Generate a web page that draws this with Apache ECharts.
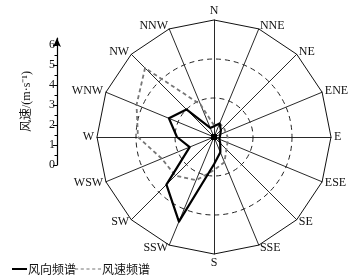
<!DOCTYPE html>
<html><head><meta charset="utf-8">
<script src="https://cdn.jsdelivr.net/npm/echarts@6/dist/echarts.min.js"></script>
<style>html,body{margin:0;padding:0;background:#fff}#c{width:351px;height:279px}</style>
</head><body><div id="c"></div>
<script>
// Directions clockwise from north
const directions = ['N','NNE','NE','ENE','E','ESE','SE','SSE','S','SSW','SW','WSW','W','WNW','NW','NNW'];
// 风向频谱 (wind direction spectrum)
const freqValues = [0.55,0.75,0.5,0.35,0.3,0.3,0.45,0.85,1.4,4.7,3.45,1.35,1.9,2.5,2.0,0.5];
// 风速频谱 (wind speed spectrum), m/s
const speedValues = [0.6,0.75,0.7,0.65,0.7,0.75,0.9,1.4,1.7,2.4,2.8,2.9,3.9,4.3,5.0,1.8];
const speedTicks = [0,1,2,3,4,5,6];
const speedMinorTicks = [0.5,1.5,2.5,3.5,4.5,5.5];
const radarMax = 6;

// radar goes counter-clockwise; reorder so directions run clockwise
const order = [0].concat(directions.map((d,i)=>i).slice(1).reverse());
const ind = order.map(i => ({name: directions[i], max: radarMax}));
const freq = order.map(i => freqValues[i]);
const speed = order.map(i => speedValues[i]);
const zeros = order.map(() => 0);

const serif = 'Liberation Serif, "Noto Sans CJK SC"';
const chart = echarts.init(document.getElementById('c'));
chart.setOption({
  animation: false,
  backgroundColor: '#fff',
  grid: {left: 57, top: 38, height: 127, width: 10},
  xAxis: {type: 'value', show: false},
  yAxis: [{
    type: 'value', min: 0, max: 6.35, position: 'left',
    name: '风速/(m·s⁻¹)', nameLocation: 'middle', nameRotate: 90, nameGap: 24,
    nameTextStyle: {fontFamily: serif, fontSize: 12, color: '#111'},
    axisLine: {show: true, symbol: ['none','arrow'], symbolSize: [6,9], lineStyle: {color: '#000', width: 1.2}},
    axisTick: {show: true, length: 4, customValues: speedTicks, lineStyle: {color: '#000'}},
    axisLabel: {customValues: speedTicks, margin: 2, fontFamily: serif, fontSize: 12, color: '#111'},
    splitLine: {show: false}
  },{
    type: 'value', min: 0, max: 6.35, position: 'left', offset: 0,
    axisLine: {show: false},
    axisTick: {show: true, length: 2.5, customValues: speedMinorTicks, lineStyle: {color: '#000'}},
    axisLabel: {show: false},
    splitLine: {show: false}
  }],
  radar: [{
    center: [214, 137], radius: 117, startAngle: 90, shape: 'polygon', splitNumber: 1,
    indicator: ind,
    axisName: {color: '#111', fontFamily: serif, fontSize: 12},
    nameGap: 3,
    axisLine: {lineStyle: {color: '#111', width: 0.9}},
    splitLine: {lineStyle: {color: '#111', width: 1}},
    splitArea: {show: false},
    axisTick: {show: false}, axisLabel: {show: false}
  },{
    center: [214, 137], radius: 78, startAngle: 90, shape: 'circle', splitNumber: 2,
    indicator: ind.map(o => ({name: '', max: radarMax})),
    axisName: {show: false},
    axisLine: {show: false},
    splitLine: {lineStyle: {color: '#222', width: 1, type: [5,4]}},
    splitArea: {show: false},
    axisTick: {show: false}, axisLabel: {show: false}
  }],
  legend: [{
    left: 7, top: 258, itemGap: 0, itemWidth: 15, itemHeight: 2, icon: 'rect',
    data: [{name: '风向频谱', itemStyle: {color: '#000'}}],
    textStyle: {fontFamily: '"Noto Sans CJK SC"', fontSize: 12, color: '#111', padding: [0,0,0,-4]}
  },{
    left: 70, top: 258, itemGap: 0, itemWidth: 26, itemHeight: 1.5,
    icon: 'path://M0,0h3v1h-3z M5.5,0h3v1h-3z M11,0h3v1h-3z M16.5,0h3v1h-3z M22,0h3v1h-3z',
    data: [{name: '风速频谱', itemStyle: {color: '#777'}}],
    textStyle: {fontFamily: '"Noto Sans CJK SC"', fontSize: 12, color: '#111', padding: [0,0,0,-4]}
  }],
  series: [{
    name: '风速频谱', type: 'radar', radarIndex: 0, symbol: 'none', z: 3,
    lineStyle: {color: '#777', width: 1.8, type: [4,3]},
    itemStyle: {color: '#777'},
    data: [{value: speed}]
  },{
    name: '风向频谱', type: 'radar', radarIndex: 0, symbol: 'none', z: 4,
    lineStyle: {color: '#000', width: 2.2},
    itemStyle: {color: '#000'},
    data: [{value: freq}]
  },{
    name: 'center', type: 'radar', radarIndex: 0, symbol: 'circle', symbolSize: 6, z: 5,
    lineStyle: {width: 0}, itemStyle: {color: '#000'},
    data: [{value: zeros}]
  }]
});
</script></body></html>
